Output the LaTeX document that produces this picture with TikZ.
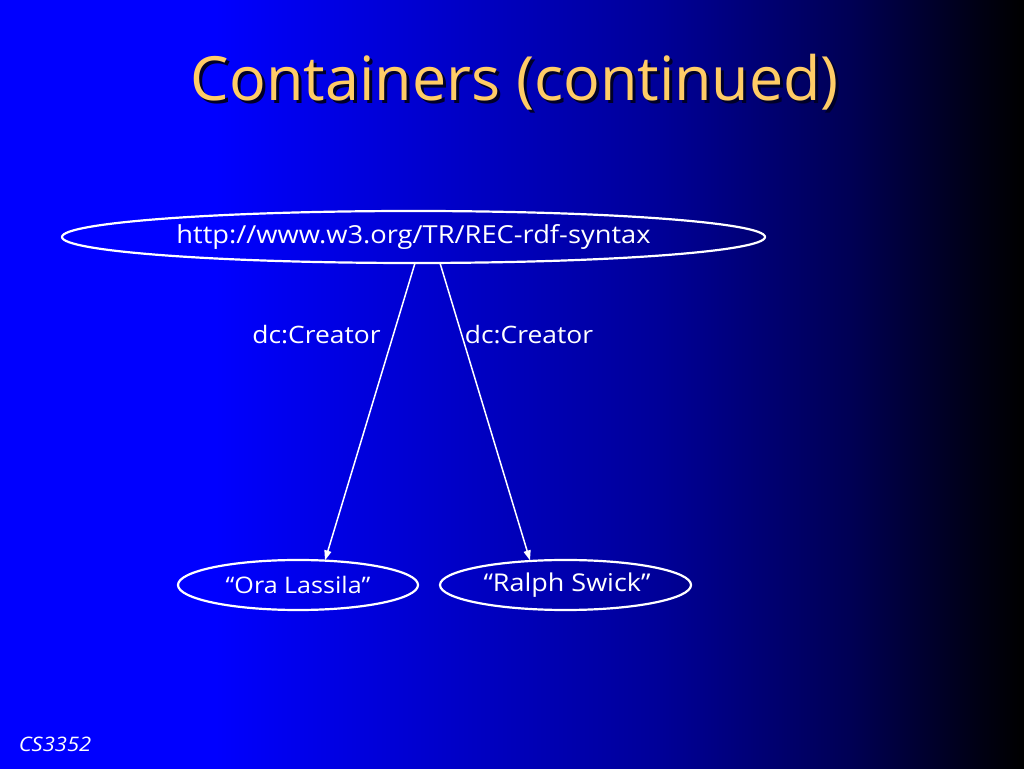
\documentclass[tikz,border=0pt]{standalone}
\usepackage{fontspec}
\setmainfont{Open Sans}[FakeStretch=1.1]
\newfontfamily\titlefont{Open Sans}
\usetikzlibrary{shapes.geometric,arrows.meta,calc}
\pgfdeclarehorizontalshading{slidebg}{100bp}{rgb(0bp)=(0,0,1); rgb(25bp)=(0,0,1); rgb(35.5bp)=(0,0,1); rgb(57bp)=(0,0,0.6); rgb(66.5bp)=(0,0,0.33); rgb(73bp)=(0,0,0.07); rgb(75bp)=(0,0,0); rgb(100bp)=(0,0,0)}
\definecolor{titlecol}{RGB}{255,204,102}
\definecolor{shadowcol}{RGB}{0,0,40}
\newcommand{\shadowtext}[1]{\makebox[0pt][l]{\hspace{3pt}\raisebox{-3pt}{\color{shadowcol}#1}}#1}
\tikzset{
  res/.style={ellipse, draw=white, line width=2.2pt, inner sep=0pt, text=white},
  arc/.style={draw=white, line width=1.5pt, -{Triangle[length=10pt,width=7pt]}},
  lbl/.style={text=white, font=\fontsize{24}{28}\selectfont},
}
\begin{document}
\begin{tikzpicture}[x=1pt,y=1pt]
\useasboundingbox (0,0) rectangle (1024,768);
\shade[shading=slidebg] (0,0) rectangle (1024,768);
% title
\node[text=titlecol, font=\titlefont\fontsize{61}{66}\selectfont] (title) at (515,684) {\shadowtext{Containers (continued)}};
% nodes
\node[res, minimum width=703, minimum height=52, font=\fontsize{24.8}{28}\selectfont] (top) at (413.5,531) {http://www.w3.org/TR/REC-rdf-syntax};
\node[res, minimum width=240, minimum height=50, font=\fontsize{22.8}{28}\selectfont] (ora) at (298,183) {“Ora Lassila”};
\node[res, minimum width=251, minimum height=50, font=\fontsize{24.5}{28}\selectfont] (ralph) at (565.5,183) {\hspace{3pt}“Ralph Swick”};
% arcs
\draw[arc] ($(top.south)+(1.5,1)$) -- ($(ora.north)+(27,-1.5)$);
\draw[arc] ($(top.south)+(26.5,1)$) -- ($(ralph.north)+(-35.5,-1.5)$);
\node[lbl] (l1) at (316.5,433) {dc:Creator};
\node[lbl] (l2) at (529,433) {dc:Creator};
% footer
\node[text=white, font=\itshape\fontsize{20}{24}\selectfont] (footer) at (55,24) {CS3352};
\end{tikzpicture}
\end{document}
